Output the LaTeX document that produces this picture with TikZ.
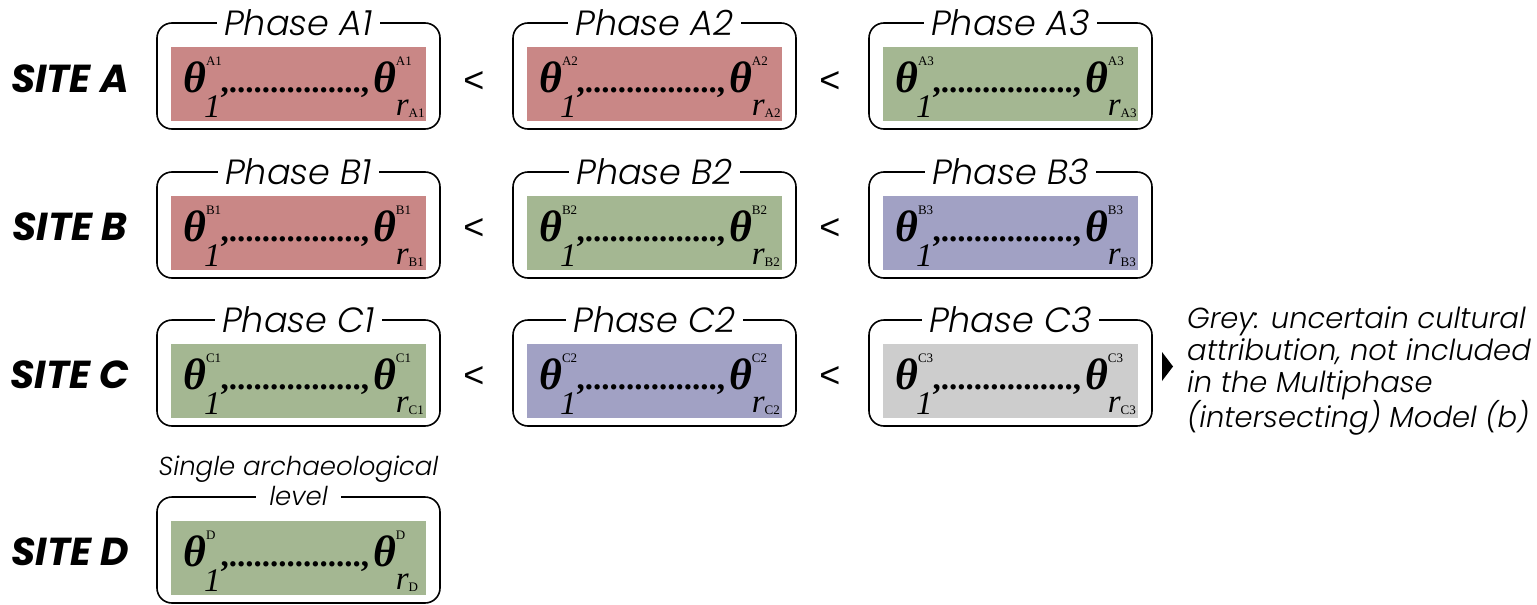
\documentclass[tikz,border=0pt]{standalone}
\usepackage{fontspec}
\newfontfamily\gothic{Poppins}
\newfontfamily\gothiclight{Poppins Light}[ItalicFont={Poppins Light Italic}]
\newfontfamily\timesfont{Liberation Serif}
\newfontfamily\arialfont{Liberation Sans}
\usetikzlibrary{positioning}

\definecolor{phasered}{RGB}{201,135,134}
\definecolor{phasegreen}{RGB}{164,183,146}
\definecolor{phaseblue}{RGB}{161,161,196}
\definecolor{phasegrey}{RGB}{205,205,205}

% theta_1, ......, theta_r with the phase index
\newcommand{\thetaseq}[1]{%
  \timesfont
  {\fontsize{44}{44}\selectfont\bfseries\itshape θ}%
  \rlap{\raisebox{27pt}{\fontsize{13}{13}\selectfont #1}}%
  \kern-2pt\raisebox{-25pt}{\fontsize{33}{33}\selectfont\itshape 1}%
  {\fontsize{33}{33}\selectfont\bfseries ,................,}%
  \kern4pt{\fontsize{44}{44}\selectfont\bfseries\itshape θ}%
  \rlap{\raisebox{27pt}{\fontsize{13}{13}\selectfont #1}}%
  \raisebox{-23pt}{\fontsize{33}{33}\selectfont\itshape r}%
  \raisebox{-25pt}{\fontsize{13}{13}\selectfont #1}%
}

\begin{document}
\begin{tikzpicture}[x=1pt,y=-1pt,
    phasebox/.style={draw,line width=1.6pt,rounded corners=15pt,minimum width=283pt,minimum height=106pt,inner sep=0pt},
    phasefill/.style={fill=#1,minimum width=255pt,minimum height=74pt,inner sep=0pt},
    phasetitle/.style={fill=white,inner xsep=7pt,inner ysep=0pt,font=\gothiclight\itshape\fontsize{35}{35}\selectfont},
    thetas/.style={anchor=base west,inner sep=0pt},
    sitelabel/.style={anchor=base,font=\gothic\bfseries\itshape\fontsize{39}{39}\selectfont},
    lessthan/.style={font=\arialfont\fontsize{36}{36}\selectfont}]
  \fill[white] (0,0) rectangle (1537,605);
  \useasboundingbox (0,0) rectangle (1537,605);

  % site A
  \node[sitelabel] (sa) at (70,92) {SITE A};
  \node[phasefill=phasered] (a1in) at (298.5,83.5) {};
  \node[phasebox] (a1) at (298.5,76) {};
  \node[phasetitle] (a1t) at (a1.north) {Phase A1};
  \node[thetas] (a1th) at (183,92) {\thetaseq{A1}};
  \node[lessthan] (alt1) at (474,82) {<};
  \node[phasefill=phasered] (a2in) at (654.5,83.5) {};
  \node[phasebox] (a2) at (654.5,76) {};
  \node[phasetitle] (a2t) at (a2.north) {Phase A2};
  \node[thetas] (a2th) at (539,92) {\thetaseq{A2}};
  \node[lessthan] (alt2) at (830,82) {<};
  \node[phasefill=phasegreen] (a3in) at (1010.5,83.5) {};
  \node[phasebox] (a3) at (1010.5,76) {};
  \node[phasetitle] (a3t) at (a3.north) {Phase A3};
  \node[thetas] (a3th) at (895,92) {\thetaseq{A3}};

  % site B
  \node[sitelabel] (sb) at (70,240) {SITE B};
  \node[phasefill=phasered] (b1in) at (298.5,232.5) {};
  \node[phasebox] (b1) at (298.5,225) {};
  \node[phasetitle] (b1t) at (b1.north) {Phase B1};
  \node[thetas] (b1th) at (183,241) {\thetaseq{B1}};
  \node[lessthan] (blt1) at (474,229) {<};
  \node[phasefill=phasegreen] (b2in) at (654.5,232.5) {};
  \node[phasebox] (b2) at (654.5,225) {};
  \node[phasetitle] (b2t) at (b2.north) {Phase B2};
  \node[thetas] (b2th) at (539,241) {\thetaseq{B2}};
  \node[lessthan] (blt2) at (830,229) {<};
  \node[phasefill=phaseblue] (b3in) at (1010.5,232.5) {};
  \node[phasebox] (b3) at (1010.5,225) {};
  \node[phasetitle] (b3t) at (b3.north) {Phase B3};
  \node[thetas] (b3th) at (895,241) {\thetaseq{B3}};

  % site C
  \node[sitelabel] (sc) at (70,388) {SITE C};
  \node[phasefill=phasegreen] (c1in) at (298.5,380.5) {};
  \node[phasebox] (c1) at (298.5,373) {};
  \node[phasetitle] (c1t) at (c1.north) {Phase C1};
  \node[thetas] (c1th) at (183,389) {\thetaseq{C1}};
  \node[lessthan] (clt1) at (474,377) {<};
  \node[phasefill=phaseblue] (c2in) at (654.5,380.5) {};
  \node[phasebox] (c2) at (654.5,373) {};
  \node[phasetitle] (c2t) at (c2.north) {Phase C2};
  \node[thetas] (c2th) at (539,389) {\thetaseq{C2}};
  \node[lessthan] (clt2) at (830,377) {<};
  \node[phasefill=phasegrey] (c3in) at (1010.5,380.5) {};
  \node[phasebox] (c3) at (1010.5,373) {};
  \node[phasetitle] (c3t) at (c3.north) {Phase C3};
  \node[thetas] (c3th) at (895,389) {\thetaseq{C3}};
  \fill (1162,352) -- (1162,381) -- (1173,366.5) -- cycle;
  \node[anchor=north west,align=left,inner sep=0pt,font=\gothiclight\itshape\fontsize{29}{32}\selectfont] (note) at (1187,306)
    {Grey: uncertain cultural\\attribution, not included\\in the Multiphase\\(intersecting) Model (b)};

  % site D
  \node[sitelabel] (sd) at (70,565) {SITE D};
  \node[phasefill=phasegreen] (d1in) at (298.5,557.5) {};
  \node[phasebox] (d1) at (298.5,550) {};
  \node[phasetitle,inner xsep=13pt,font=\gothiclight\itshape\fontsize{26}{26}\selectfont] (d1t) at (d1.north) {level};
  \node[font=\gothiclight\itshape\fontsize{26}{26}\selectfont] (d1s) at (298.5,469) {Single archaeological};
  \node[thetas] (d1th) at (183,566) {\thetaseq{D}};
\end{tikzpicture}
\end{document}
